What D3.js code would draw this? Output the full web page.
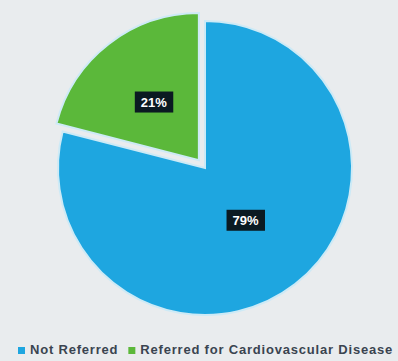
<!DOCTYPE html>
<html>
<head>
<meta charset="utf-8">
<script src="https://cdn.jsdelivr.net/npm/d3@7"></script>
<style>
  body { margin: 0; background: #e9ecee; }
  svg { display: block; }
</style>
</head>
<body>
<div id="chart"></div>
<script>
// chart data
var categories = ["Not Referred", "Referred for Cardiovascular Disease"];
var values = [79, 21];
var labels = ["79%", "21%"];
var colors = ["#1ea6e0", "#5bb83a"];

var width = 398, height = 361;
var cx = 205, cy = 168, radius = 147;

var svg = d3.select("#chart").append("svg")
    .attr("width", width)
    .attr("height", height);

svg.append("rect")
    .attr("width", width)
    .attr("height", height)
    .attr("fill", "#e9ecee");

var pie = d3.pie().sort(null).startAngle(0).endAngle(2 * Math.PI);
var arcs = pie(values);

var arc = d3.arc().innerRadius(0).outerRadius(radius);
// label distance from centre, as a share of the radius
var labelPos = [0.45, 0.5];

var g = svg.append("g").attr("transform", "translate(" + cx + "," + cy + ")");

// offset for the exploded slice
function offset(d, i) {
    if (i === 0) return [0, 0];
    var a = (d.startAngle + d.endAngle) / 2;
    var dist = 10;
    return [Math.sin(a) * dist, -Math.cos(a) * dist];
}

var slices = g.selectAll("g.slice").data(arcs)
    .enter().append("g")
    .attr("class", "slice")
    .attr("transform", function (d, i) {
        var o = offset(d, i);
        return "translate(" + o[0] + "," + o[1] + ")";
    });

slices.append("path")
    .attr("d", arc)
    .attr("fill", function (d, i) { return colors[i]; })
    .attr("stroke", "#cdeaf6")
    .attr("stroke-width", 2);

slices.each(function (d, i) {
    var s = d3.select(this);
    var r = radius * labelPos[i];
    var c = d3.arc().innerRadius(r).outerRadius(r).centroid(d);
    var t = s.append("text")
        .attr("x", c[0])
        .attr("y", c[1])
        .attr("text-anchor", "middle")
        .attr("dominant-baseline", "central")
        .attr("font-family", "Liberation Sans, Arial, sans-serif")
        .attr("font-weight", "bold")
        .attr("font-size", 13)
        .attr("fill", "#ffffff")
        .text(labels[i]);
    var bb = t.node().getBBox();
    s.insert("rect", "text")
        .attr("x", bb.x - 6)
        .attr("y", bb.y - 3)
        .attr("width", bb.width + 12)
        .attr("height", bb.height + 6)
        .attr("fill", "#0b1a22");
});

// legend
var legend = svg.append("g").attr("transform", "translate(18,351)");
var lx = 0;
categories.forEach(function (name, i) {
    legend.append("rect")
        .attr("x", lx)
        .attr("y", -4)
        .attr("width", 7)
        .attr("height", 7)
        .attr("fill", colors[i]);
    var t = legend.append("text")
        .attr("x", lx + 12)
        .attr("y", 0)
        .attr("dominant-baseline", "middle")
        .attr("font-family", "Liberation Sans, Arial, sans-serif")
        .attr("font-weight", "bold")
        .attr("font-size", 13)
        .attr("letter-spacing", 0.8)
        .attr("fill", "#3a4450")
        .text(name);
    lx += 12 + t.node().getComputedTextLength() + 10;
});
</script>
</body>
</html>
